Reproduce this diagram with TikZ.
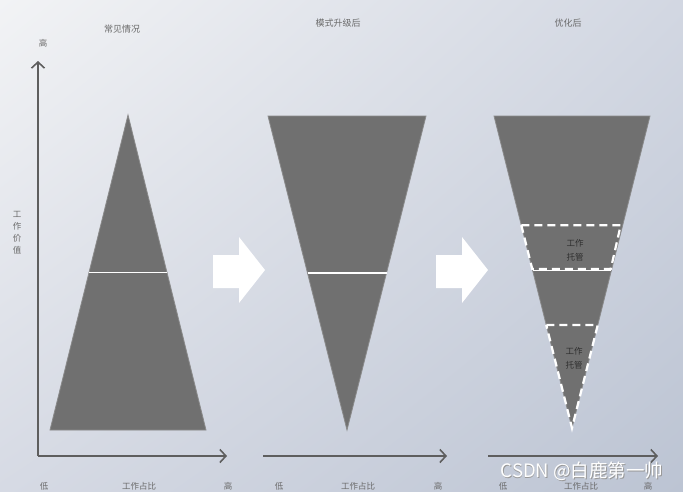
\documentclass[tikz,border=0pt]{standalone}
\usepackage{fontspec}
\setmainfont{Noto Sans CJK SC}
\usepackage{tikz}
\usetikzlibrary{arrows.meta,calc,positioning,shadings}

\definecolor{bgA}{HTML}{F2F3F5}
\definecolor{bgB}{HTML}{D2D7E2}
\definecolor{bgC}{HTML}{D6DAE4}
\definecolor{bgD}{HTML}{BCC4D3}
\definecolor{triGrey}{HTML}{707070}
\definecolor{triEdge}{HTML}{8A8A8A}
\definecolor{axisGrey}{HTML}{5E5E5E}
\definecolor{lblGrey}{HTML}{6A6A6A}

\tikzset{
  tri/.style={fill=triGrey, draw=triEdge, line width=0.8pt},
  axis/.style={draw=axisGrey, line width=1.6pt, -{Straight Barb[length=6pt,width=13pt,line width=1.6pt]}},
  lbl/.style={text=lblGrey, font=\fontsize{8.5}{10}\selectfont, inner sep=0pt},
  hosted/.style={draw=white, line width=2.2pt, dash pattern=on 8pt off 5pt},
  split/.style={draw=white, line width=1.6pt},
  bigarrow/.style={fill=white, draw=none},
}

\begin{document}
\begin{tikzpicture}[x=1pt, y=-1pt]
    \useasboundingbox (0,0) rectangle (683,491);
    \shade[upper left=bgA, upper right=bgB, lower left=bgC, lower right=bgD] (0,0) rectangle (683,491);

    % titles
    \node[lbl, font=\fontsize{9}{10}\selectfont] (title1) at (122,29) {常见情况};
    \node[lbl, font=\fontsize{9}{10}\selectfont] (title2) at (338,23) {模式升级后};
    \node[lbl, font=\fontsize{9}{10}\selectfont] (title3) at (568,23) {优化后};

    % axes
    \coordinate (o1) at (38,456);
    \coordinate (y1) at (38,61);
    \coordinate (x1) at (227,456);
    \draw[axis] (o1) -- (y1);
    \draw[axis] (o1) -- (x1);
    \coordinate (o2) at (263,456);
    \coordinate (x2) at (447,456);
    \draw[axis] (o2) -- (x2);
    \coordinate (o3) at (488,456);
    \coordinate (x3) at (658,456);
    \draw[axis] (o3) -- (x3);

    \node[lbl] (yhigh) at (43,43) {高};
    \node[lbl, align=center, font=\fontsize{8.5}{12}\selectfont] (yname) at (17,233) {工\\作\\价\\值};
    \foreach \i/\lo/\mid/\hi in {1/44/139/228, 2/279/358/438, 3/503/581/648} {
      \node[lbl] (low\i) at (\lo,486) {低};
      \node[lbl] (share\i) at (\mid,486) {工作占比};
      \node[lbl] (high\i) at (\hi,486) {高};
    }

    % normal case
    \coordinate (t1a) at (128,115);
    \coordinate (t1l) at (50,430);
    \coordinate (t1r) at (206,430);
    \draw[tri] (t1a) -- (t1l) -- (t1r) -- cycle;
    \draw[split] ($(t1a)!0.5!(t1l)$) -- ($(t1a)!0.5!(t1r)$);

    % after upgrade
    \coordinate (t2l) at (268,116);
    \coordinate (t2r) at (426,116);
    \coordinate (t2a) at (347,430);
    \draw[tri] (t2l) -- (t2r) -- (t2a) -- cycle;
    \draw[split] ($(t2l)!0.5!(t2a)$) -- ($(t2r)!0.5!(t2a)$);

    % optimised
    \coordinate (t3l) at (494,116);
    \coordinate (t3r) at (650,116);
    \coordinate (t3a) at (572,428);
    \draw[tri] (t3l) -- (t3r) -- (t3a) -- cycle;
    \draw[split] ($(t3l)!0.495!(t3a)$) -- ($(t3r)!0.495!(t3a)$);
    \draw[hosted] ($(t3l)!0.35!(t3a)$) -- ($(t3r)!0.35!(t3a)+(-2,0)$)
      -- ($(t3r)!0.49!(t3a)+(-1,0)$) -- ($(t3l)!0.49!(t3a)$) -- cycle;
    \draw[hosted] ($(t3l)!0.67!(t3a)$) -- ($(t3r)!0.67!(t3a)$) -- (t3a) -- cycle;
    \node[lbl, text=black!82, align=center, font=\fontsize{8.5}{14}\selectfont] (host1) at (575,250) {工作\\托管};
    \node[lbl, text=black!82, align=center, font=\fontsize{8.5}{14}\selectfont] (host2) at (574,358) {工作\\托管};

    % block arrows
    \foreach \x in {213,436} {
      \fill[bigarrow] (\x,255) -- (\x+26,255) -- (\x+26,237) -- (\x+52,270)
        -- (\x+26,303) -- (\x+26,288) -- (\x,288) -- cycle;
    }

    % watermark
    \node[text=black!40, font=\fontsize{18.5}{20}\selectfont, inner sep=0pt] (markshadow) at (582.8,471.8) {CSDN @白鹿第一帅};
    \node[text=white, font=\fontsize{18.5}{20}\selectfont, inner sep=0pt] (mark) at (582,471) {CSDN @白鹿第一帅};
\end{tikzpicture}
\end{document}
